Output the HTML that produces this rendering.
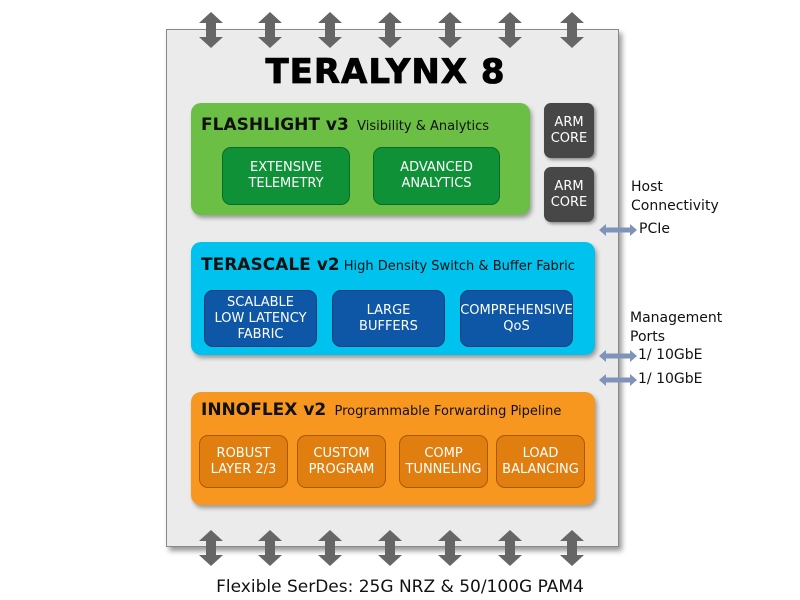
<!DOCTYPE html>
<html><head><style>
body{margin:0;width:800px;height:600px;background:#fff;position:relative;overflow:hidden;font-family:"DejaVu Sans","Liberation Sans",sans-serif;}
.a{position:absolute;}
.box{position:absolute;border-radius:10px;box-shadow:2px 3px 4px rgba(0,0,0,0.35);}
.in{position:absolute;border-radius:9px;color:#fff;font-size:13px;text-align:center;display:flex;align-items:center;justify-content:center;line-height:16px;}
.t{position:absolute;font-size:13px;color:#111;white-space:nowrap;}
.s{font-size:14px;}
.h{font-weight:bold;font-size:17px;color:#111;}
</style></head><body>
<div class="a" style="left:166px;top:29px;width:451px;height:516px;background:#ebebeb;border:1px solid #888;box-shadow:3px 4px 5px rgba(0,0,0,0.4);"></div>
<svg class="a" style="left:0;top:0" width="800" height="600">
<defs><g id="v"><polygon points="0,-18 12,-7 5,-7 5,7 12,7 0,18 -12,7 -5,7 -5,-7 -12,-7" fill="#666"/></g>
<g id="h"><polygon points="-19,0 -12,-6 -12,-2.5 12,-2.5 12,-6 19,0 12,6 12,2.5 -12,2.5 -12,6" fill="#7f93b8"/></g></defs>
<use href="#v" x="211" y="30"/><use href="#v" x="270" y="30"/><use href="#v" x="330" y="30"/><use href="#v" x="390" y="30"/><use href="#v" x="450" y="30"/><use href="#v" x="510" y="30"/><use href="#v" x="572" y="30"/>
<use href="#v" x="211" y="548"/><use href="#v" x="270" y="548"/><use href="#v" x="330" y="548"/><use href="#v" x="390" y="548"/><use href="#v" x="450" y="548"/><use href="#v" x="510" y="548"/><use href="#v" x="572" y="548"/>
<use href="#h" x="618" y="230"/><use href="#h" x="618" y="356"/><use href="#h" x="618" y="380"/>
</svg>
<div class="a" style="left:160px;width:451px;top:52px;text-align:center;font-weight:900;font-size:34px;letter-spacing:1px;color:#000;-webkit-text-stroke:0.8px #000;">TERALYNX 8</div>

<div class="box" style="left:191px;top:103px;width:339px;height:112px;background:#6cbf45;"></div>
<div class="t" style="left:201px;top:115px;"><span class="h">FLASHLIGHT v3</span>&nbsp; Visibility &amp; Analytics</div>
<div class="in" style="left:222px;top:147px;width:126px;height:56px;background:#0f9237;border:1px solid #0a6a28;">EXTENSIVE<br>TELEMETRY</div>
<div class="in" style="left:373px;top:147px;width:125px;height:56px;background:#0f9237;border:1px solid #0a6a28;">ADVANCED<br>ANALYTICS</div>
<div class="in" style="left:544px;top:103px;width:50px;height:55px;background:#474747;border-radius:7px;box-shadow:2px 2px 3px rgba(0,0,0,.4);">ARM<br>CORE</div>
<div class="in" style="left:544px;top:167px;width:50px;height:55px;background:#474747;border-radius:7px;box-shadow:2px 2px 3px rgba(0,0,0,.4);">ARM<br>CORE</div>

<div class="box" style="left:191px;top:242px;width:404px;height:113px;background:#00c2ee;"></div>
<div class="t" style="left:201px;top:255px;"><span class="h">TERASCALE v2</span>&nbsp;High Density Switch &amp; Buffer Fabric</div>
<div class="in" style="left:204px;top:290px;width:111px;height:55px;background:#0e57a6;border:1px solid #0a3e78;">SCALABLE<br>LOW LATENCY<br>FABRIC</div>
<div class="in" style="left:332px;top:290px;width:111px;height:55px;background:#0e57a6;border:1px solid #0a3e78;">LARGE<br>BUFFERS</div>
<div class="in" style="left:460px;top:290px;width:111px;height:55px;background:#0e57a6;border:1px solid #0a3e78;">COMPREHENSIVE<br>QoS</div>

<div class="box" style="left:191px;top:392px;width:404px;height:113px;background:#f7971f;"></div>
<div class="t" style="left:201px;top:400px;"><span class="h">INNOFLEX v2</span>&nbsp; Programmable Forwarding Pipeline</div>
<div class="in" style="left:199px;top:435px;width:87px;height:51px;background:#e07e10;border:1px solid #a85a08;">ROBUST<br>LAYER 2/3</div>
<div class="in" style="left:297px;top:435px;width:87px;height:51px;background:#e07e10;border:1px solid #a85a08;">CUSTOM<br>PROGRAM</div>
<div class="in" style="left:399px;top:435px;width:87px;height:51px;background:#e07e10;border:1px solid #a85a08;">COMP<br>TUNNELING</div>
<div class="in" style="left:496px;top:435px;width:87px;height:51px;background:#e07e10;border:1px solid #a85a08;">LOAD<br>BALANCING</div>

<div class="t s" style="left:631px;top:178px;line-height:19px;">Host<br>Connectivity</div>
<div class="t s" style="left:639px;top:221px;">PCIe</div>
<div class="t s" style="left:630px;top:309px;line-height:19px;">Management<br>Ports</div>
<div class="t s" style="left:638px;top:347px;">1/ 10GbE</div>
<div class="t s" style="left:638px;top:371px;">1/ 10GbE</div>
<div class="t" style="left:0;width:800px;top:577px;text-align:center;font-size:17px;">Flexible SerDes: 25G NRZ &amp; 50/100G PAM4</div>
</body></html>
